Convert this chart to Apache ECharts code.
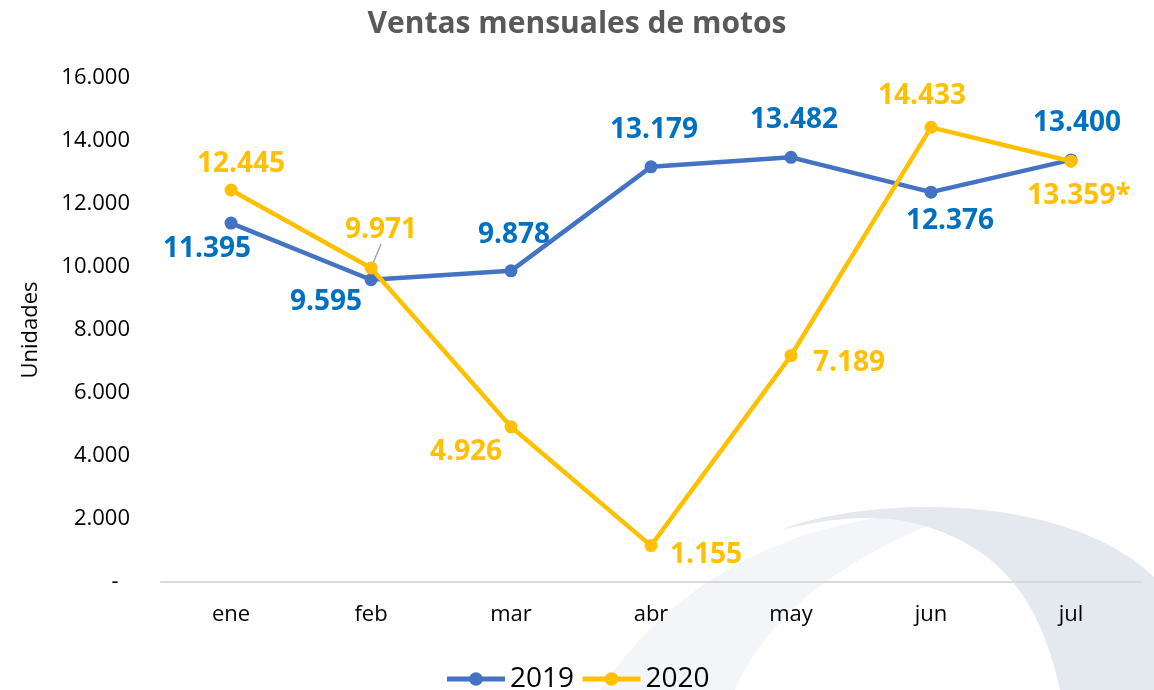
<!DOCTYPE html>
<html>
<head>
<meta charset="utf-8">
<script src="https://cdn.jsdelivr.net/npm/echarts@6/dist/echarts.min.js"></script>
<style>
  html, body { margin: 0; padding: 0; background: #fff; }
  #main { width: 1154px; height: 690px; }
</style>
</head>
<body>
<div id="main"></div>
<script>
// datos
var meses = ['ene', 'feb', 'mar', 'abr', 'may', 'jun', 'jul'];
var ventas2019 = [11395, 9595, 9878, 13179, 13482, 12376, 13400];
var ventas2020 = [12445, 9971, 4926, 1155, 7189, 14433, 13359];
var notas2020 = ['', '', '', '', '', '', '*'];

// desplazamiento de cada etiqueta respecto a su punto
var offsets2019 = [[-24, 26], [-45, 22], [3, -36], [3, -37], [3, -37], [19, 29], [6, -37]];
var offsets2020 = [[10, -26], [10, -38], [-45, 25], [55, 9], [58, 7], [-9, -31], [8, 35]];

function miles(v) {
    return String(v).replace(/\B(?=(\d{3})+(?!\d))/g, '.');
}

// curva bezier cubica -> lista de puntos (para el adorno de fondo)
function bezier(p0, p1, p2, p3, n) {
    var pts = [];
    for (var i = 0; i <= n; i++) {
        var t = i / n, u = 1 - t;
        pts.push([
            u * u * u * p0[0] + 3 * u * u * t * p1[0] + 3 * u * t * t * p2[0] + t * t * t * p3[0],
            u * u * u * p0[1] + 3 * u * u * t * p1[1] + 3 * u * t * t * p2[1] + t * t * t * p3[1]
        ]);
    }
    return pts;
}

var bandaClara = [].concat(
    bezier([600, 690], [660, 600], [760, 530], [900, 515], 30),
    [[930, 525]],
    bezier([930, 525], [820, 570], [760, 630], [735, 690], 30)
);
var bandaOscura = [].concat(
    bezier([780, 530], [860, 498], [1060, 488], [1154, 577], 40),
    [[1154, 690], [1060, 690]],
    bezier([1060, 690], [1040, 600], [1000, 540], [900, 520], 30),
    bezier([900, 520], [860, 515], [820, 520], [780, 530], 10)
);

var myChart = echarts.init(document.getElementById('main'));

function puntos(valores, offsets, notas, guia) {
    return valores.map(function (v, i) {
        var item = {
            value: v,
            label: {
                position: 'inside',
                offset: offsets[i],
                formatter: miles(v) + (notas ? notas[i] : '')
            }
        };
        if (guia === i) {
            item.labelLine = { show: true, lineStyle: { color: '#A6A6A6', width: 1.5 } };
        }
        return item;
    });
}

var etiqueta = function (color) {
    return {
        show: true,
        color: color,
        fontFamily: 'Open Sans',
        fontSize: 28,
        fontWeight: 'bold'
    };
};

var option = {
    backgroundColor: '#fff',
    textStyle: { fontFamily: 'Open Sans' },
    title: {
        text: 'Ventas mensuales de motos',
        left: 'center',
        top: 4,
        textStyle: { color: '#595959', fontSize: 30, fontWeight: 'bold', fontFamily: 'Open Sans' }
    },
    graphic: [
        {
            type: 'polygon',
            z: -10,
            silent: true,
            shape: { points: bandaClara },
            style: { fill: '#F4F5F8' }
        },
        {
            type: 'polygon',
            z: -9,
            silent: true,
            shape: { points: bandaOscura },
            style: { fill: '#E4E8EF' }
        }
    ],
    legend: {
        top: 660,
        left: 'center',
        itemWidth: 58,
        itemHeight: 17,
        itemGap: 6,
        lineStyle: { width: 5 },
        textStyle: { fontSize: 28, color: '#000', fontFamily: 'Open Sans' },
        data: ['2019', '2020']
    },
    grid: { left: 161, right: 13, top: 78, bottom: 108 },
    xAxis: {
        type: 'category',
        data: meses,
        axisLine: { lineStyle: { color: '#D9D9D9', width: 2 } },
        axisTick: { show: false },
        axisLabel: { color: '#000', fontSize: 22, margin: 22, fontFamily: 'Open Sans' }
    },
    yAxis: {
        type: 'value',
        min: 0,
        max: 16000,
        interval: 2000,
        name: 'Unidades',
        nameLocation: 'middle',
        nameGap: 119,
        nameRotate: 90,
        nameTextStyle: { color: '#000', fontSize: 22, fontFamily: 'Open Sans' },
        splitLine: { show: false },
        axisLine: { show: false },
        axisTick: { show: false },
        axisLabel: {
            color: '#000',
            fontSize: 22,
            margin: 31,
            fontFamily: 'Open Sans',
            formatter: function (v) { return v === 0 ? '-  ' : miles(v); }
        }
    },
    series: [
        {
            name: '2019',
            type: 'line',
            data: puntos(ventas2019, offsets2019),
            symbol: 'circle',
            symbolSize: 13,
            color: '#4472C4',
            lineStyle: { width: 4.5, color: '#4472C4' },
            label: etiqueta('#0070C0'),
            z: 2
        },
        {
            name: '2020',
            type: 'line',
            data: puntos(ventas2020, offsets2020, notas2020, 1),
            symbol: 'circle',
            symbolSize: 13,
            color: '#FFC000',
            lineStyle: { width: 4.5, color: '#FFC000' },
            label: etiqueta('#FFC000'),
            z: 3
        }
    ]
};

myChart.setOption(option);
</script>
</body>
</html>
